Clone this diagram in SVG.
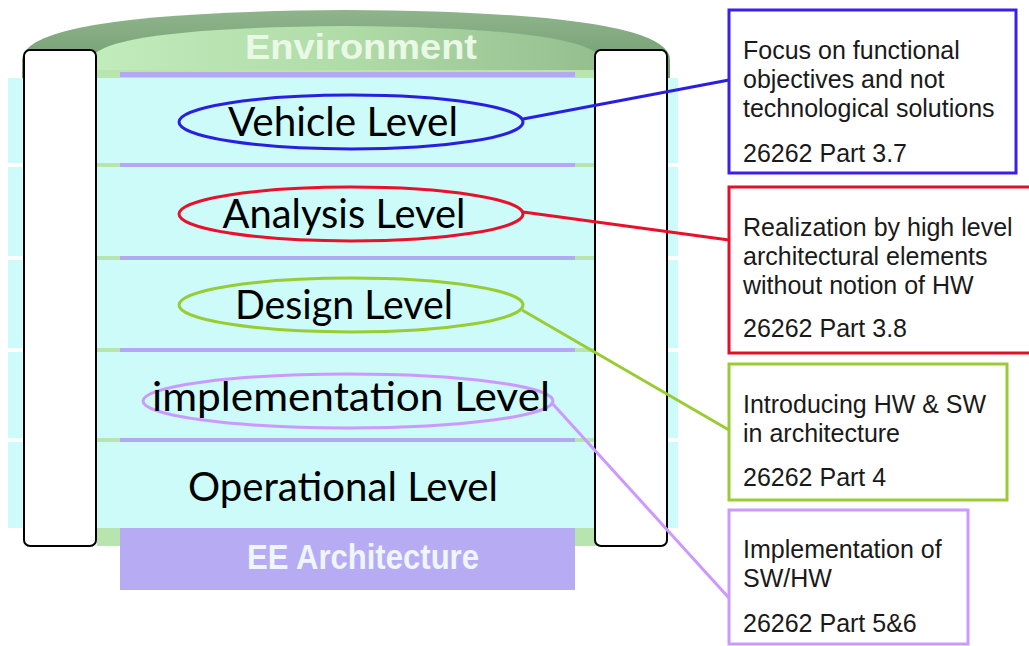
<svg xmlns="http://www.w3.org/2000/svg" width="1029" height="646" viewBox="0 0 1029 646">
<defs>
<linearGradient id="domeG" x1="0" y1="0" x2="0" y2="1">
<stop offset="0" stop-color="#8fb48c"/>
<stop offset="1" stop-color="#6f9a6e"/>
</linearGradient>
<linearGradient id="innerG" x1="0" y1="0" x2="1" y2="0">
<stop offset="0" stop-color="#c2ecbc"/>
<stop offset="0.5" stop-color="#b0dca8"/>
<stop offset="1" stop-color="#94be8e"/>
</linearGradient>
</defs>
<style>
.cyan{fill:#ccfbfa}
.sep{fill:#b3a9f3}
.pillar{fill:#ffffff;stroke:#000000;stroke-width:2}
.lvl{font-family:Lato,"Open Sans",sans-serif;font-size:40px;fill:#000000;text-anchor:middle}
.ell{fill:none;stroke-width:3}
.box{fill:#ffffff;stroke-width:3}
.note{font-family:"Liberation Sans",Arial,sans-serif;font-size:25px;fill:#1a1a1a}
.conn{fill:none;stroke-width:3}
.banner{font-family:"Liberation Sans",Arial,sans-serif;font-weight:bold;font-size:35px;text-anchor:middle}
</style>
<rect width="1029" height="646" fill="#ffffff"/>

<g id="environment">
<path d="M22,60 Q22,12 346,10 Q670,12 670,60 L670,80 L22,80 Z" fill="url(#domeG)"/>
<path d="M90,60 Q100,28 346,26 Q592,28 602,60 L602,80 L90,80 Z" fill="url(#innerG)"/>
<text class="banner" x="361" y="59" fill="#eaf8e6" textLength="232" lengthAdjust="spacingAndGlyphs">Environment</text>
</g>

<g id="architecture-body">
<rect x="97" y="70" width="500" height="476" fill="#b8e4b0"/>
<rect class="cyan" x="8" y="78" width="670" height="85"/>
<rect class="cyan" x="8" y="167" width="670" height="89"/>
<rect class="cyan" x="8" y="260" width="670" height="88"/>
<rect class="cyan" x="8" y="352" width="670" height="86"/>
<rect class="cyan" x="8" y="442" width="670" height="86"/>
<rect class="sep" x="120" y="72" width="455" height="5"/>
<rect class="sep" x="120" y="163" width="455" height="4"/>
<rect class="sep" x="120" y="256" width="455" height="4"/>
<rect class="sep" x="120" y="348" width="455" height="4"/>
<rect class="sep" x="120" y="438" width="455" height="4"/>
</g>

<g id="ee-architecture">
<rect x="120" y="528" width="455" height="62" fill="#b7acf4"/>
<text class="banner" x="363" y="569" fill="#eef6ff" textLength="232" lengthAdjust="spacingAndGlyphs">EE Architecture</text>
</g>

<g id="pillar-left"><rect class="pillar" x="24" y="50" width="72" height="496" rx="6"/></g>
<g id="pillar-right"><rect class="pillar" x="595" y="50" width="72" height="496" rx="6"/></g>

<g id="vehicle-level">
<ellipse class="ell" cx="351" cy="122" rx="172" ry="27" stroke="#2a1fe0"/>
<text class="lvl" x="343" y="136" textLength="230" lengthAdjust="spacingAndGlyphs">Vehicle Level</text>
</g>
<g id="analysis-level">
<ellipse class="ell" cx="351" cy="214" rx="172" ry="27" stroke="#e8102a"/>
<text class="lvl" x="344" y="228" textLength="243" lengthAdjust="spacingAndGlyphs">Analysis Level</text>
</g>
<g id="design-level">
<ellipse class="ell" cx="351" cy="305" rx="172" ry="27" stroke="#99cc33"/>
<text class="lvl" x="344" y="319" textLength="218" lengthAdjust="spacingAndGlyphs">Design Level</text>
</g>
<g id="implementation-level">
<ellipse class="ell" cx="348" cy="401" rx="205" ry="27" stroke="#cc99ff"/>
<text class="lvl" x="351" y="411" textLength="398" lengthAdjust="spacingAndGlyphs">implementation Level</text>
</g>
<g id="operational-level">
<text class="lvl" x="343" y="501" textLength="310" lengthAdjust="spacingAndGlyphs">Operational Level</text>
</g>

<g id="connectors">
<line class="conn" x1="523" y1="119" x2="729" y2="80" stroke="#2a1fe0"/>
<line class="conn" x1="523" y1="212" x2="729" y2="240" stroke="#e8102a"/>
<line class="conn" x1="522" y1="310" x2="729" y2="430" stroke="#99cc33"/>
<line class="conn" x1="551" y1="402" x2="729" y2="598" stroke="#cc99ff"/>
</g>

<g id="note-vehicle">
<rect class="box" x="729" y="10" width="287" height="163" stroke="#3a1fe6"/>
<text class="note" x="743" y="59">Focus on functional</text>
<text class="note" x="743" y="88">objectives and not</text>
<text class="note" x="743" y="117">technological solutions</text>
<text class="note" x="743" y="162">26262 Part 3.7</text>
</g>
<g id="note-analysis">
<rect class="box" x="729" y="187" width="310" height="166" stroke="#e0102a"/>
<text class="note" x="743" y="236">Realization by high level</text>
<text class="note" x="743" y="265">architectural elements</text>
<text class="note" x="743" y="294">without notion of HW</text>
<text class="note" x="743" y="337">26262 Part 3.8</text>
</g>
<g id="note-design">
<rect class="box" x="729" y="364" width="278" height="136" stroke="#99cc33"/>
<text class="note" x="743" y="413">Introducing HW &amp; SW</text>
<text class="note" x="743" y="442">in architecture</text>
<text class="note" x="743" y="486">26262 Part 4</text>
</g>
<g id="note-implementation">
<rect class="box" x="729" y="510" width="239" height="134" stroke="#cc99ff"/>
<text class="note" x="743" y="558">Implementation of</text>
<text class="note" x="743" y="587">SW/HW</text>
<text class="note" x="743" y="632">26262 Part 5&amp;6</text>
</g>
</svg>
